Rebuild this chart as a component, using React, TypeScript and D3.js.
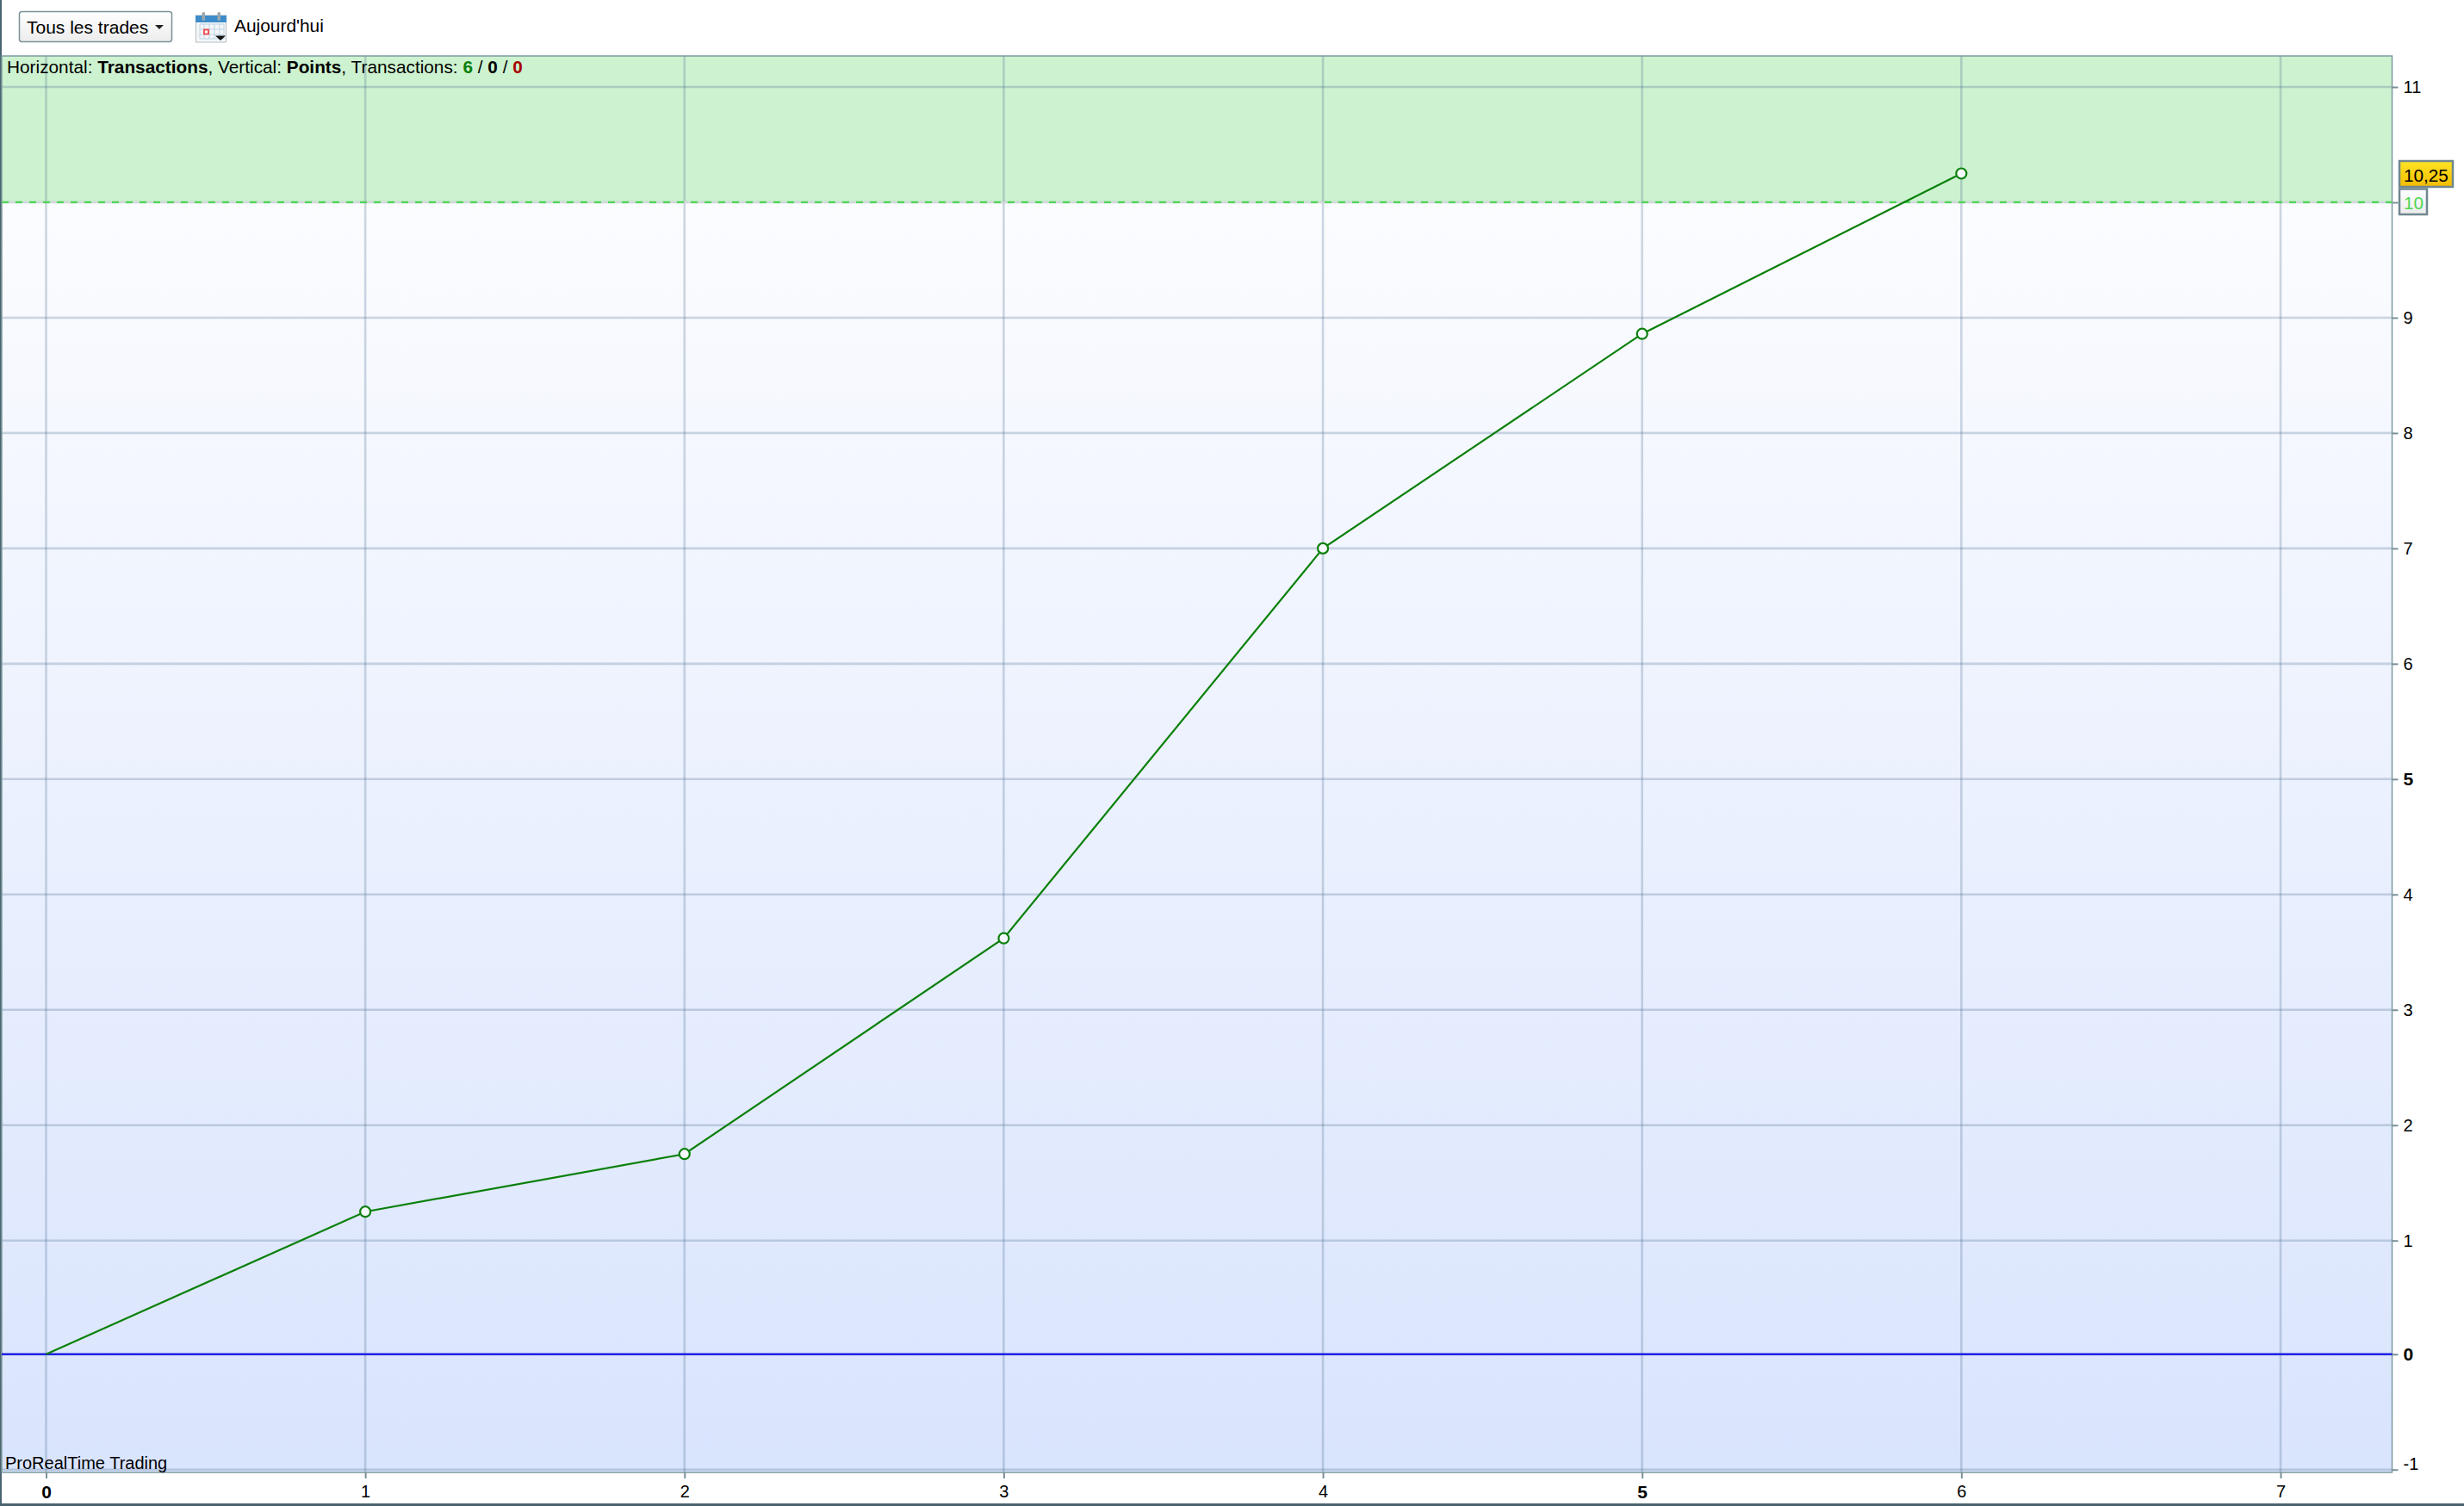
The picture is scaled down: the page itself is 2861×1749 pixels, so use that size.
import React, { useEffect, useRef } from 'react';
import * as d3 from 'd3';

const tradeIndex = [0, 1, 2, 3, 4, 5, 6];
const points = [0, 1.25, 1.75, 3.62, 7, 8.86, 10.25];
const xTicks = [0, 1, 2, 3, 4, 5, 6, 7];
const yTicks = [-1, 0, 1, 2, 3, 4, 5, 6, 7, 8, 9, 10, 11];
const boldTicks = [0, 5];
const targetValue = 10;
const lastValue = '10,25';

const width = 2861;
const height = 1749;
const plot = { left: 2, right: 2777.5, top: 65, bottom: 1710 };
const fontFamily = '"Liberation Sans", Arial, sans-serif';

const App = (): JSX.Element => {
  const container = useRef<SVGSVGElement>(null);

  useEffect(() => {
    const svg = d3.select(container.current);
    svg.selectAll('*').remove();

    const x = d3.scaleLinear().domain([0, 7]).range([53.5, 2648]);
    // the platform snaps the rows around zero, so the scale has a few stops
    const y = d3
      .scaleLinear()
      .domain([-1, 0, 1, 11])
      .range([1706.7, 1572.7, 1440.7, 101]);

    const defs = svg.append('defs');
    const addGradient = (id: string, from: string, to: string) => {
      const g = defs
        .append('linearGradient')
        .attr('id', id)
        .attr('x1', 0)
        .attr('x2', 0)
        .attr('y1', 0)
        .attr('y2', 1);
      g.append('stop').attr('offset', 0).attr('stop-color', from);
      g.append('stop').attr('offset', 1).attr('stop-color', to);
    };
    addGradient('bg', '#ffffff', '#d9e4fd');
    addGradient('yellow', '#ffe426', '#f3bb00');
    addGradient('btn', '#ffffff', '#ececec');

    // window frame
    svg.append('rect').attr('width', width).attr('height', height).attr('fill', '#ffffff');
    svg.append('rect').attr('x', 0).attr('y', 0).attr('width', 2).attr('height', height).attr('fill', '#4a6470');
    svg.append('rect').attr('x', 0).attr('y', 1746).attr('width', width).attr('height', 3).attr('fill', '#4a6470');

    // plot background
    svg
      .append('rect')
      .attr('x', plot.left)
      .attr('y', plot.top)
      .attr('width', plot.right - plot.left)
      .attr('height', plot.bottom - plot.top)
      .attr('fill', 'url(#bg)');
    svg
      .append('rect')
      .attr('x', plot.left)
      .attr('y', plot.top)
      .attr('width', plot.right - plot.left)
      .attr('height', y(targetValue) - plot.top)
      .attr('fill', '#cdf2d0');

    // grid
    const gridColor = 'rgba(70,105,140,0.26)';
    svg
      .append('g')
      .selectAll('line')
      .data(yTicks)
      .join('line')
      .attr('x1', plot.left)
      .attr('x2', plot.right)
      .attr('y1', (d) => y(d))
      .attr('y2', (d) => y(d))
      .attr('stroke', gridColor)
      .attr('stroke-width', 2.6);
    svg
      .append('g')
      .selectAll('line')
      .data(xTicks)
      .join('line')
      .attr('x1', (d) => x(d))
      .attr('x2', (d) => x(d))
      .attr('y1', plot.top)
      .attr('y2', plot.bottom)
      .attr('stroke', gridColor)
      .attr('stroke-width', 2.6);

    // plot border
    svg
      .append('rect')
      .attr('x', plot.left)
      .attr('y', plot.top)
      .attr('width', plot.right - plot.left)
      .attr('height', plot.bottom - plot.top)
      .attr('fill', 'none')
      .attr('stroke', '#7d9a9e')
      .attr('stroke-width', 1.5);

    // axes
    const yAxis = d3
      .axisRight(y)
      .tickValues(yTicks)
      .tickSize(7)
      .tickPadding(6)
      .tickFormat((d) => String(d));
    const yG = svg
      .append('g')
      .attr('transform', `translate(${plot.right},0)`)
      .call(yAxis);
    const xAxis = d3
      .axisBottom(x)
      .tickValues(xTicks)
      .tickSize(7)
      .tickPadding(8)
      .tickFormat((d) => String(d));
    const xG = svg
      .append('g')
      .attr('transform', `translate(0,${plot.bottom})`)
      .call(xAxis);
    [yG, xG].forEach((g) => {
      g.select('.domain').remove();
      g.selectAll('line').attr('stroke', '#7b9099').attr('stroke-width', 2);
      g.selectAll<SVGTextElement, number>('text')
        .attr('font-family', fontFamily)
        .attr('font-size', (d) => (boldTicks.includes(d) ? 21 : 20))
        .attr('fill', '#000')
        .attr('font-weight', (d) => (boldTicks.includes(d) ? 'bold' : 'normal'));
    });
    // the lowest label sits a little above its tick
    yG.selectAll<SVGTextElement, number>('text')
      .filter((d) => d === -1)
      .attr('dy', '-0.02em');

    // target line
    svg
      .append('line')
      .attr('x1', plot.left)
      .attr('x2', plot.right)
      .attr('y1', y(targetValue))
      .attr('y2', y(targetValue))
      .attr('stroke', '#d4d8da')
      .attr('stroke-width', 2);
    svg
      .append('line')
      .attr('x1', plot.left)
      .attr('x2', plot.right)
      .attr('y1', y(targetValue))
      .attr('y2', y(targetValue))
      .attr('stroke', '#4fd655')
      .attr('stroke-width', 2.2)
      .attr('stroke-dasharray', '8 8');

    // zero line
    svg
      .append('line')
      .attr('x1', plot.left)
      .attr('x2', plot.right)
      .attr('y1', y(0))
      .attr('y2', y(0))
      .attr('stroke', '#2222e6')
      .attr('stroke-width', 2.4);

    // equity curve
    const line = d3
      .line<number>()
      .x((_, i) => x(tradeIndex[i]))
      .y((d) => y(d));
    svg
      .append('path')
      .attr('d', line(points) || '')
      .attr('fill', 'none')
      .attr('stroke', '#0a800a')
      .attr('stroke-width', 2.2);
    svg
      .append('g')
      .selectAll('circle')
      .data(points.slice(1))
      .join('circle')
      .attr('cx', (_, i) => x(tradeIndex[i + 1]))
      .attr('cy', (d) => y(d))
      .attr('r', 6)
      .attr('fill', '#f6f9ff')
      .attr('stroke', '#0a800a')
      .attr('stroke-width', 2.2);

    // value labels on the right
    const tagX = 2786;
    svg
      .append('rect')
      .attr('x', tagX)
      .attr('y', 219.5)
      .attr('width', 32)
      .attr('height', 29.5)
      .attr('fill', 'url(#btn)')
      .attr('stroke', '#71878f')
      .attr('stroke-width', 2.5);
    svg
      .append('text')
      .attr('x', tagX + 5)
      .attr('y', 242.5)
      .attr('font-family', fontFamily)
      .attr('font-size', 20.7)
      .attr('fill', '#4fd655')
      .text(String(targetValue));
    svg
      .append('rect')
      .attr('x', tagX)
      .attr('y', 187)
      .attr('width', 62)
      .attr('height', 30)
      .attr('fill', 'url(#yellow)')
      .attr('stroke', '#71878f')
      .attr('stroke-width', 2.5);
    svg
      .append('text')
      .attr('x', tagX + 5)
      .attr('y', 211)
      .attr('font-family', fontFamily)
      .attr('font-size', 20.7)
      .attr('fill', '#000')
      .text(lastValue);

    // info line
    const info = svg
      .append('text')
      .attr('x', 8)
      .attr('y', 85)
      .attr('font-family', fontFamily)
      .attr('font-size', 20.8)
      .attr('fill', '#000');
    const parts: [string, boolean, string][] = [
      ['Horizontal: ', false, '#000'],
      ['Transactions', true, '#000'],
      [', Vertical: ', false, '#000'],
      ['Points', true, '#000'],
      [', Transactions: ', false, '#000'],
      ['6', true, '#0a800a'],
      [' / ', false, '#000'],
      ['0', true, '#000'],
      [' / ', false, '#000'],
      ['0', true, '#a80000'],
    ];
    parts.forEach(([t, b, c]) => {
      info
        .append('tspan')
        .attr('font-weight', b ? 'bold' : 'normal')
        .attr('fill', c)
        .text(t);
    });

    svg
      .append('text')
      .attr('x', 6)
      .attr('y', 1706)
      .attr('font-family', fontFamily)
      .attr('font-size', 20)
      .attr('fill', '#000')
      .text('ProRealTime Trading');

    // toolbar
    svg
      .append('rect')
      .attr('x', 22.5)
      .attr('y', 13.5)
      .attr('width', 177)
      .attr('height', 35)
      .attr('rx', 3)
      .attr('fill', 'url(#btn)')
      .attr('stroke', '#7d9199')
      .attr('stroke-width', 1.5);
    svg
      .append('text')
      .attr('x', 31)
      .attr('y', 39)
      .attr('font-family', fontFamily)
      .attr('font-size', 21)
      .attr('fill', '#000')
      .text('Tous les trades');
    svg.append('path').attr('d', 'M180 29h10l-5 5z').attr('fill', '#222');

    // calendar icon
    const cal = svg.append('g');
    cal.append('rect').attr('x', 227.5).attr('y', 18).attr('width', 35).attr('height', 31).attr('fill', '#f4f6f8').attr('stroke', '#b9bec2');
    cal.append('rect').attr('x', 227).attr('y', 18).attr('width', 36).attr('height', 8).attr('fill', '#3c8ccb');
    cal.append('rect').attr('x', 234.5).attr('y', 14).attr('width', 3.5).attr('height', 10).attr('rx', 1.5).attr('fill', '#9aa6ae');
    cal.append('rect').attr('x', 252.5).attr('y', 14).attr('width', 3.5).attr('height', 10).attr('rx', 1.5).attr('fill', '#9aa6ae');
    cal
      .append('path')
      .attr('d', 'M232 28h28v17h-28zM232 34h28M232 40h28M237 28v17M243 28v17M249 28v17M255 28v17')
      .attr('stroke', '#bcd4e6')
      .attr('stroke-width', 1)
      .attr('fill', 'none');
    cal.append('rect').attr('x', 237).attr('y', 34.5).attr('width', 5).attr('height', 5).attr('fill', '#fff').attr('stroke', '#f04a4a').attr('stroke-width', 1.8);
    cal.append('path').attr('d', 'M250 41.5h12l-6 5.5z').attr('fill', '#111');
    svg
      .append('text')
      .attr('x', 272)
      .attr('y', 37)
      .attr('font-family', fontFamily)
      .attr('font-size', 20.9)
      .attr('fill', '#000')
      .text("Aujourd'hui");
  }, []);

  return (
    <svg
      ref={container}
      width={width}
      height={height}
      style={{ position: 'absolute', left: 0, top: 0, display: 'block' }}
    />
  );
};

export default App;
